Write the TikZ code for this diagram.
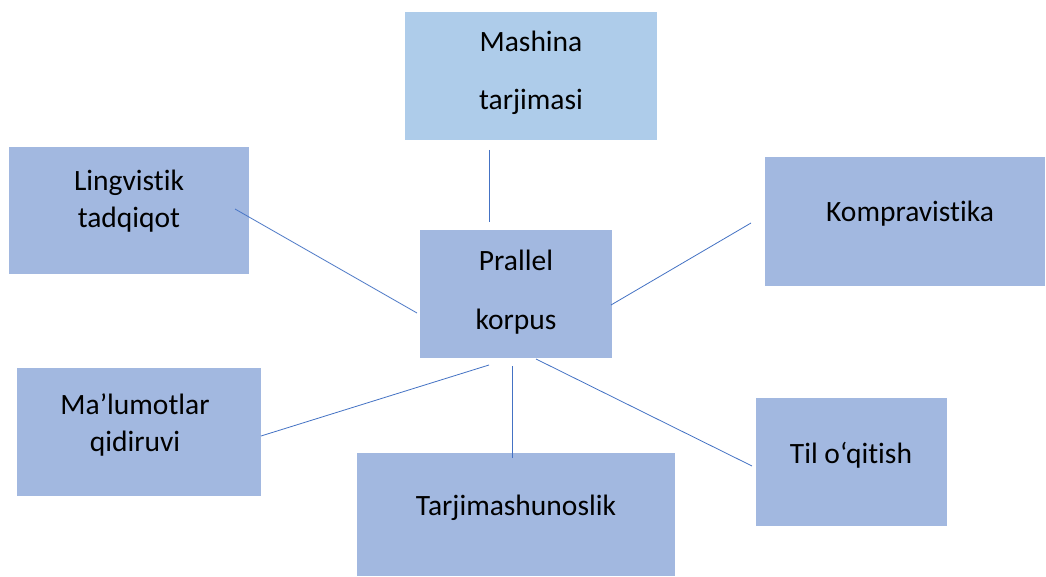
\documentclass[tikz,border=0pt]{standalone}
\usepackage{fontspec}
\setmainfont{Carlito}[Ligatures=NoCommon]
\usepackage{xcolor}
\usepackage{tikz}
\definecolor{boxblue}{RGB}{162,184,224}
\definecolor{boxlight}{RGB}{174,204,234}
\definecolor{linkblue}{RGB}{68,114,196}

\begin{document}
\begin{tikzpicture}[
  x=1pt, y=-1pt, font=\fontsize{29.5}{36}\selectfont,
  box/.style={rectangle,fill=boxblue,inner sep=0pt},
  txt/.style={align=center,inner sep=0pt},
  link/.style={linkblue,line width=0.8pt}]
\useasboundingbox[fill=white] (0,0) rectangle (1046,577);
% boxes
\node[box,fill=boxlight,minimum width=252pt,minimum height=128pt] (mash) at (531,76) {};
\node[box,minimum width=240pt,minimum height=127pt] (ling) at (129,210.5) {};
\node[box,minimum width=280pt,minimum height=129pt] (komp) at (905,221.5) {};
\node[box,minimum width=192pt,minimum height=128pt] (korp) at (516,294) {};
\node[box,minimum width=244pt,minimum height=128pt] (malu) at (139,432) {};
\node[box,minimum width=318pt,minimum height=123pt] (tarj) at (516,514.5) {};
\node[box,minimum width=191pt,minimum height=128pt] (tilo) at (851.5,462) {};
% texts
\node[txt] (mash-t) at (531,72.5) {Mashina\\[22pt]tarjimasi};
\node[txt] (ling-t) at (129,201.5) {Lingvistik\\[1pt]tadqiqot};
\node[txt] (komp-t) at (910,214) {Kompravistika};
\node[txt] (korp-t) at (516,292) {Prallel\\[23pt]korpus};
\node[txt] (malu-t) at (135,425) {Ma’lumotlar\\[1pt]qidiruvi};
\node[txt] (tarj-t) at (516,508) {Tarjimashunoslik};
\node[txt] (tilo-t) at (851,455) {Til o‘qitish};
% connector ends
\coordinate (a1) at (489,150); \coordinate (b1) at (489,222);
\coordinate (a2) at (235,209); \coordinate (b2) at (417,313);
\coordinate (a3) at (751,223); \coordinate (b3) at (611,305);
\coordinate (a4) at (489,365); \coordinate (b4) at (261,436);
\coordinate (a5) at (512,366); \coordinate (b5) at (512,458);
\coordinate (a6) at (536,359); \coordinate (b6) at (752,466);
\foreach \i in {1,...,6}{\draw[link] (a\i) -- (b\i);}
\end{tikzpicture}
\end{document}
